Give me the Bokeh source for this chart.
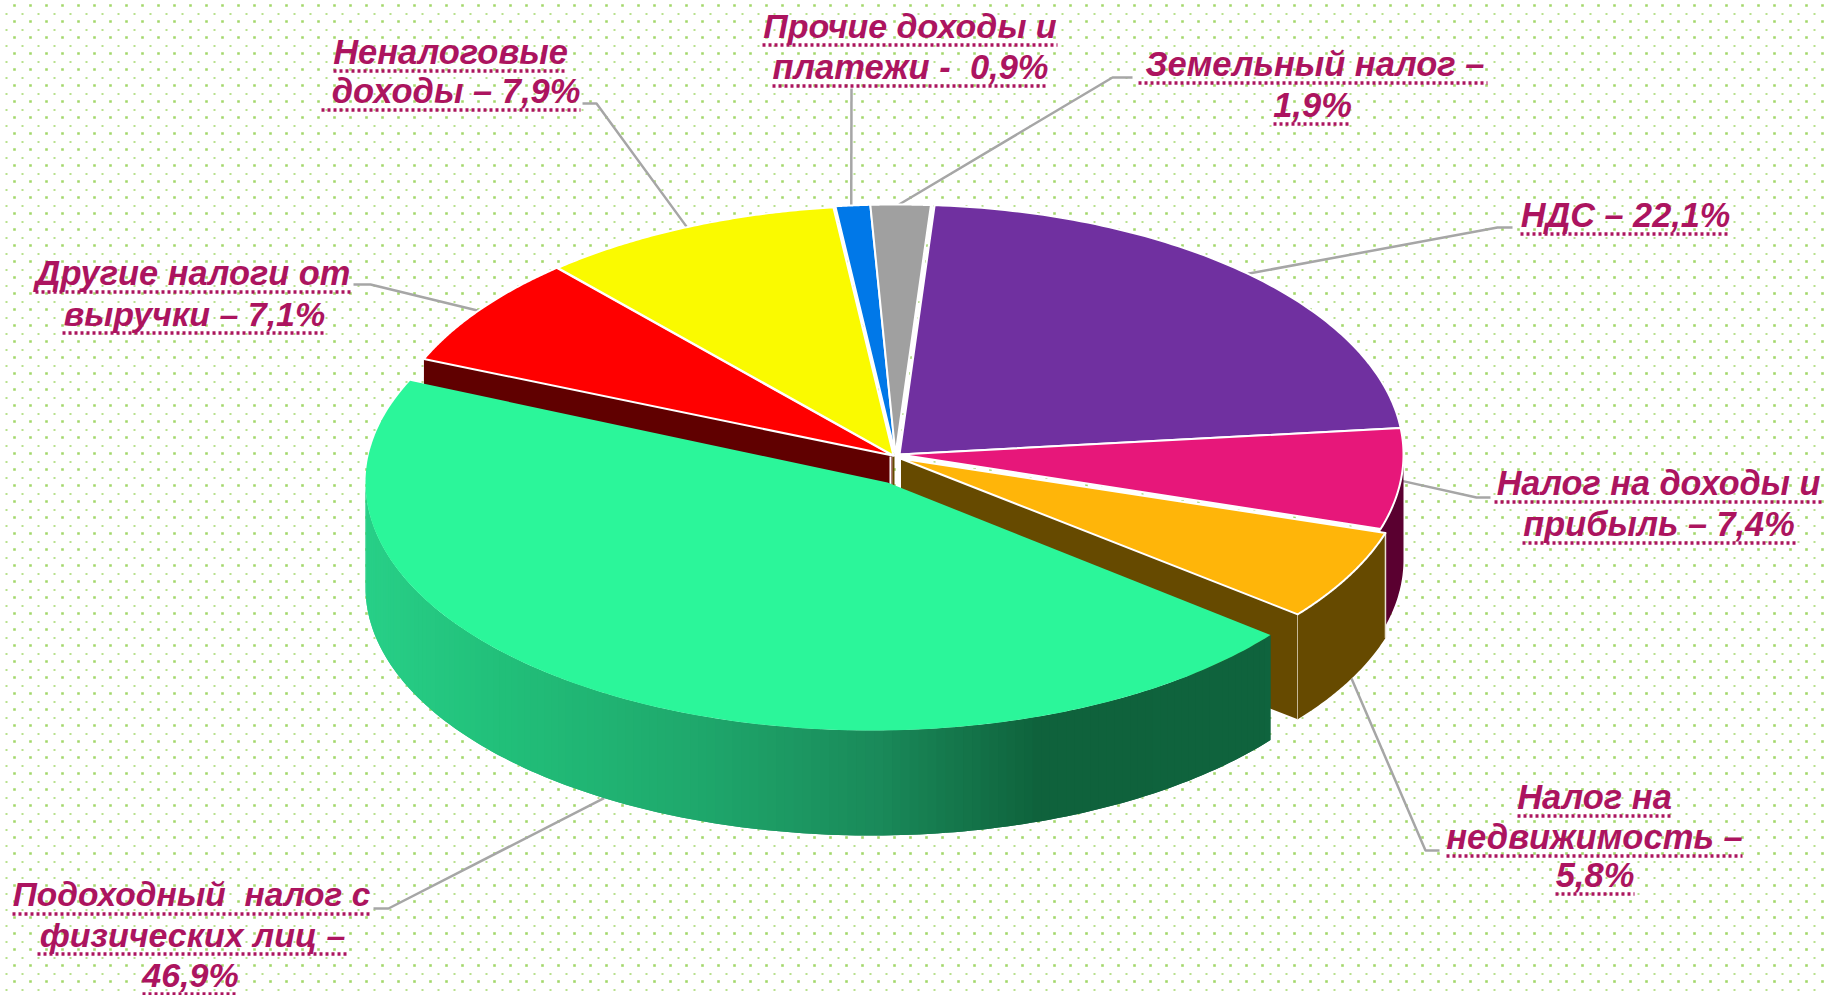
import numpy as np
from bokeh.plotting import figure
from bokeh.models import Range1d
from bokeh.core.properties import value
from bokeh.embed import file_html
from bokeh.resources import INLINE

# Slice names, printed percentages, and the visual share of each slice
names = ["НДС", "Налог на доходы и прибыль", "Налог на недвижимость", "Подоходный налог с физических лиц",
         "Другие налоги от выручки", "Неналоговые доходы", "Прочие доходы и платежи", "Земельный налог"]
printed = [22.1, 7.4, 5.8, 46.9, 7.1, 7.9, 0.9, 1.9]
drawn_share = [22.2, 6.5, 5.9, 45.6, 7.2, 9.6, 1.1, 1.9]
colors = ["#7030A0", "#E7177A", "#FFB509", "#2BF69A", "#FF0000", "#FAFA00", "#0078E8", "#A0A0A0"]

# Label lines
label_lines = ["Неналоговые", "доходы – 7,9%", "Прочие доходы и", "платежи -\u00a0\u00a00,9%", "Земельный налог –", "1,9%",
               "НДС – 22,1%", "Налог на доходы и", "прибыль – 7,4%", "Налог на", "недвижимость –", "5,8%",
               "Другие налоги от", "выручки – 7,1%", "Подоходный\u00a0\u00a0налог с", "физических лиц –", "46,9%"]
line_left = [333, 321, 762, 772, 1138, 1273, 1520, 1494, 1522, 1517, 1446, 1555, 35, 62, 12, 37, 142]
line_right = [567, 580, 1057, 1048, 1487, 1351, 1730, 1822, 1795, 1671, 1742, 1634, 350, 326, 370, 347, 238]
line_base = [64, 103, 38, 79, 76, 117, 227, 495, 536, 809, 849, 887, 285, 326, 907, 947, 987]
line_size = [34.5, 34.5, 34, 34.5, 34.5, 34.5, 34.3, 34.2, 34.3, 34.5, 34.6, 34.5, 34.4, 34, 33.5, 34, 34]
text_shift_x = [0, 5, 0, 0, 2, 0, 0, 0, 0, 0, 0, 0, 0, 0, 0, 0, 0]
TEXT_LIFT = 13

# Pie geometry: each slice has its apex and the centre of its own rim ellipse
CX, CY, RX, RY, DEPTH = 897, 454, 508, 250, 105
START = 4.0
apex_x = [899, 899, 900, 887, 892, 893, 895, 895]
apex_y = [454, 454, 458, 482, 455, 455, 454, 454]
rim_x = [899, 899, 900, 871, 892, 893, 895, 895]
rim_y = [454, 454, 458, 482, 455, 455, 454, 454]
radius_x = [504, 504, RX, 506, RX, RX, RX, RX]
radius_y = [RY, RY, RY, 248, RY, RY, RY, RY]
turn_start = [0, 0, 0, -0.6, 0, 0, 0, 0]
turn_end = [0, 0, 0, 1.5, 0, 0, 0, 0]


def pt(i, deg, down=0):
    t = np.radians(np.asarray(deg, dtype=float))
    return (rim_x[i] + radius_x[i] * np.sin(t),
            rim_y[i] - radius_y[i] * np.cos(t) + down)


edges = START + np.concatenate([[0], np.cumsum(drawn_share)]) * 3.6
a0 = [edges[i] + turn_start[i] for i in range(8)]
a1 = [edges[i + 1] + turn_end[i] for i in range(8)]

p = figure(width=1826, height=995, x_range=Range1d(0, 1826), y_range=Range1d(995, 0),
           output_backend="svg", toolbar_location=None, min_border=0,
           background_fill_color="white", border_fill_color="white", outline_line_color=None)
p.axis.visible = False
p.grid.visible = False
p.margin = (0, 0, 0, 0)

# dotted paper
ax, ay = np.meshgrid(np.arange(14, 1826, 16), np.arange(5, 995, 16))
bx, by = np.meshgrid(np.arange(6, 1826, 16), np.arange(13.5, 995, 16))
p.scatter(ax.ravel(), ay.ravel(), marker="square", size=2.6, fill_color="#92D050", line_color=None, fill_alpha=0.85)
p.scatter(bx.ravel(), by.ravel(), marker="square", size=2, fill_color="#92D050", line_color=None, fill_alpha=0.65)

# leader lines: elbow taken from the label, end taken from the pie
leader_slice = [5, 6, 7, 0, 1, 2, 3, 4]
leader_angle = [-24, -5, 0.4, 43.7, 96, 117.4, 211.9, -54.6]
leader_down = [0, 0, 0, 0, 0, DEPTH, DEPTH, 0]
leader_start = [(582, 103), (851, 88), (1132, 77), (1512, 227), (1490, 497), (1439, 850), (373, 908), (353, 284)]
leader_elbow = [(596, 103), (851, 88), (1112, 77), (1497, 227), (1476, 497), (1425, 850), (388, 908), (370, 284)]
for s, ang, dn, st, el in zip(leader_slice, leader_angle, leader_down, leader_start, leader_elbow):
    ex, ey = pt(s, ang, dn)
    p.line([st[0], el[0], float(ex)], [st[1], el[1], float(ey)], line_color="#A6A6A6", line_width=2.5)


def wedge(i, n=90):
    th = np.linspace(a0[i], a1[i], n)
    x, y = pt(i, th)
    return np.r_[apex_x[i], x], np.r_[apex_y[i], y]


def side(i, th0, th1, n=50):
    th = np.linspace(th0, th1, n)
    x, y = pt(i, th)
    return np.r_[x, x[::-1]], np.r_[y, y[::-1] + DEPTH]


def cut(i, th):
    ox, oy = apex_x[i], apex_y[i]
    x, y = pt(i, th)
    return [ox, float(x), float(x), ox], [oy, float(y), float(y) + DEPTH, oy + DEPTH]


# inner cut faces, hidden in part by the big slice
xs, ys = cut(4, a0[4])
p.patch(xs, ys, fill_color="#600000", line_color=None)
xs, ys = cut(2, a1[2])
p.patch(xs, ys, fill_color="#664A00", line_color=None)
p.line([xs[1], xs[2]], [ys[1], ys[2]], line_color="#E8E0D0", line_width=1.5)

# slivers at the apex
p.line([890, 890], [456, 486], line_color="white", line_width=2)
p.line([893, 893], [456, 486], line_color="#664A00", line_width=2)
p.line([899, 899], [456, 492], line_color="white", line_width=3)

# outer walls
xs, ys = side(1, 90, a1[1])
p.patch(xs, ys, fill_color="#5A0030", line_color=None)
xs, ys = side(2, a0[2], a1[2])
p.patch(xs, ys, fill_color="#664A00", line_color=None)
wx, wy = pt(2, a0[2])
p.line([float(wx), float(wx)], [float(wy), float(wy) + DEPTH], line_color="#E8E0D0", line_width=1.5)

# big slice wall, shaded left to right; each strip runs under the next one so no seams show
stop_x = [365, 500, 700, 880, 1040, 1267]
stop_r = [0x28, 0x22, 0x1F, 0x1A, 0x0F, 0x0F]
stop_g = [0xD0, 0xC0, 0xA8, 0x8A, 0x62, 0x64]
stop_b = [0x88, 0x7A, 0x6C, 0x5A, 0x3C, 0x3E]
th = np.linspace(270, a0[3], 141)
for k in range(len(th) - 1):
    t0, t1 = th[k], th[min(k + 2, len(th) - 1)]
    x0, y0 = pt(3, t0)
    xm, ym = pt(3, th[k + 1])
    x1, y1 = pt(3, t1)
    mx = (float(x0) + float(xm)) / 2
    col = "#%02X%02X%02X" % (int(np.interp(mx, stop_x, stop_r)), int(np.interp(mx, stop_x, stop_g)),
                             int(np.interp(mx, stop_x, stop_b)))
    px = [float(x0), float(xm), float(x1), float(x1), float(xm), float(x0)]
    py = [float(y0), float(ym), float(y1), float(y1) + DEPTH, float(ym) + DEPTH, float(y0) + DEPTH]
    p.patch(px, py, fill_color=col, line_color=None)

# top faces
xs, ys = wedge(3, 180)
p.patch(xs, ys, fill_color=colors[3], line_color=None)
for i in [0, 1, 2, 4, 5, 6, 7]:
    xs, ys = wedge(i)
    p.patch(xs, ys, fill_color=colors[i], line_color="white", line_width=2, line_join="round")

# labels with dotted underlines
TXT = "#AC145F"
for s, l, r, b, fs, dx in zip(label_lines, line_left, line_right, line_base, line_size, text_shift_x):
    p.text([(l + r) / 2 + dx], [b - TEXT_LIFT], text=[s], text_align="center", text_baseline="alphabetic",
           text_font=value("Liberation Sans"), text_font_style="bold italic", text_font_size=f"{fs}px",
           text_color=TXT)
    p.line([l, r], [b + 6.5, b + 6.5], line_color=TXT, line_width=3.5, line_dash="3 3")

open("out.html", "w").write(file_html(p, INLINE))
